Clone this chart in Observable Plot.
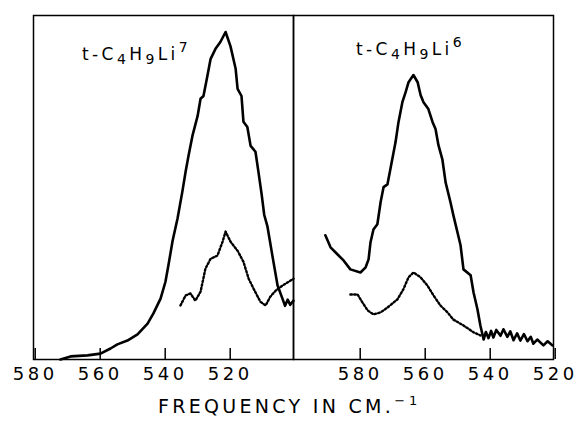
<!DOCTYPE html>
<html>
<head>
<meta charset="utf-8">
<script src="https://cdn.jsdelivr.net/npm/d3@7"></script>
<script src="https://cdn.jsdelivr.net/npm/@observablehq/plot@0.6"></script>
<style>
  html, body { margin: 0; padding: 0; background: #fff; }
  #wrap { position: relative; width: 577px; height: 421px; overflow: hidden; font-family: "DejaVu Sans", sans-serif; color: #000; }
  #row { display: flex; flex-direction: row; }
  #row svg { overflow: visible; }
  #row svg g[aria-label="x-axis tick label"] text { letter-spacing: 3.5px; }
  #xlabel { position: absolute; left: 158px; top: 397px; font-size: 19px; line-height: 19px; letter-spacing: 3.3px; white-space: nowrap; }
  #xlabel sup { font-size: 13px; letter-spacing: 4px; vertical-align: 8px; line-height: 0; }
  .title { position: absolute; font-size: 17px; line-height: 17px; letter-spacing: 3.4px; white-space: nowrap; }
  .title sub { font-size: 14px; vertical-align: -4px; line-height: 0; }
  .title sup { font-size: 14px; vertical-align: 8px; line-height: 0; }
</style>
</head>
<body>
<div id="wrap">
  <div id="row"></div>
  <div class="title" id="t1" style="left:82px; top:46px;"></div>
  <div class="title" id="t2" style="left:356px; top:41px;"></div>
  <div id="xlabel">FREQUENCY IN CM.<sup>−1</sup></div>
</div>
<script>
// ---- Data (frequency in cm^-1, relative intensity 0-100) ----
const titleParts = ["t-C", "4", "H", "9", "Li"];
const leftIsotope = "7";
const rightIsotope = "6";
const leftTicks = [580, 560, 540, 520];
const rightTicks = [580, 560, 540, 520];

const leftSolidFreq = [571.7, 568.6, 563.4, 559.4, 556.3, 554.2, 551.1, 548.0, 544.9, 543.1, 540.9, 539.4, 538.5, 537.2, 535.7, 534.2, 533.2, 532.3, 531.1, 529.5, 528.6, 527.7, 526.5, 525.5, 524.0, 522.5, 520.9, 519.4, 517.8, 517.2, 516.0, 515.4, 514.2, 513.2, 511.7, 510.8, 509.8, 509.0, 508.0, 506.5, 504.9, 503.4, 502.6, 501.8, 501.0, 500.0];
const leftSolidVal  = [0.0, 0.9, 1.2, 1.7, 3.2, 4.4, 5.5, 7.3, 10.4, 13.4, 17.7, 22.6, 27.3, 34.5, 40.9, 48.8, 54.6, 59.2, 65.0, 70.8, 75.8, 76.6, 82.4, 87.4, 90.3, 92.3, 95.2, 91.1, 84.5, 78.7, 76.6, 69.1, 67.6, 62.1, 60.4, 54.6, 48.0, 42.0, 38.6, 30.2, 21.5, 17.7, 15.6, 17.4, 15.9, 17.1];

const leftDotFreq = [534.8, 533.2, 531.7, 530.2, 528.6, 527.1, 525.5, 523.4, 521.8, 520.9, 519.4, 517.2, 515.4, 513.8, 512.3, 510.2, 508.6, 507.1, 505.5, 503.4, 501.5, 500.0];
const leftDotVal  = [15.7, 18.6, 19.2, 17.1, 19.7, 26.4, 29.3, 30.2, 34.3, 37.2, 34.3, 31.6, 28.4, 23.5, 20.6, 16.8, 15.7, 18.3, 20.0, 21.5, 22.6, 23.5];

const rightSolidFreq = [590.2, 588.6, 586.5, 584.6, 582.5, 579.4, 577.8, 576.9, 576.3, 575.4, 574.2, 573.2, 572.3, 571.1, 570.2, 568.6, 567.7, 566.5, 565.5, 564.6, 563.1, 561.8, 560.9, 560.0, 558.5, 557.2, 556.3, 555.4, 554.2, 553.2, 551.7, 550.8, 548.6, 547.7, 545.5, 544.6, 543.4, 542.5, 541.5, 540.8, 540.0, 539.2, 538.5, 537.6, 536.3, 535.4, 534.2, 533.3, 532.3, 531.2, 530.2, 529.1, 528.0, 527.0, 526.2, 525.0, 523.1, 521.8, 520.3];
const rightSolidVal  = [36.1, 32.6, 30.6, 28.8, 26.2, 25.3, 26.8, 29.1, 34.1, 37.8, 39.3, 45.7, 50.1, 50.9, 55.3, 63.2, 69.0, 74.8, 77.7, 80.6, 82.7, 80.6, 76.9, 74.8, 72.8, 69.0, 67.0, 62.3, 58.2, 51.5, 45.7, 41.9, 33.2, 26.2, 24.5, 19.5, 14.6, 9.9, 5.8, 8.0, 6.2, 8.3, 6.4, 8.6, 6.9, 8.8, 6.6, 8.2, 5.6, 7.6, 5.5, 7.4, 5.3, 6.6, 4.6, 5.8, 4.1, 5.3, 4.1];

const rightDotFreq = [582.5, 580.3, 578.8, 577.2, 575.4, 573.2, 571.1, 568.0, 566.2, 564.6, 563.1, 560.9, 558.8, 556.9, 554.8, 552.6, 550.8, 547.7, 544.6, 542.5];
const rightDotVal  = [18.9, 18.9, 16.6, 14.3, 13.1, 13.7, 15.1, 17.5, 20.4, 23.9, 25.3, 23.9, 21.5, 18.6, 15.7, 13.7, 11.6, 9.9, 7.9, 7.0];

const zip = (fs, vs) => fs.map((f, i) => ({f, v: vs[i]}));

function panel({width, marginLeft, marginRight, domain, ticks, solid, dotted}) {
  return Plot.plot({
    width, height: 390,
    marginLeft, marginRight, marginTop: 15, marginBottom: 31,
    style: {fontFamily: "DejaVu Sans, sans-serif", fontSize: "18px", color: "#000", background: "transparent"},
    x: {domain, label: null},
    y: {domain: [0, 100], axis: null},
    marks: [
      Plot.frame({stroke: "#000", strokeWidth: 1.5}),
      Plot.axisX({ticks, tickSize: -11, tickPadding: 19, tickFormat: d => String(d), label: null, stroke: "#000", strokeWidth: 1.5, fontSize: 18, dx: 1.7}),
      Plot.line(dotted, {x: "f", y: "v", stroke: "#000", strokeWidth: 2.4, strokeDasharray: "1.6 2.2", curve: "linear"}),
      Plot.line(solid, {x: "f", y: "v", stroke: "#000", strokeWidth: 2.6, curve: "linear", strokeLinejoin: "round"})
    ]
  });
}

function setTitle(id, iso) {
  const el = document.getElementById(id);
  const [a, b, c, d, e] = titleParts;
  el.innerHTML = `${a}<sub>${b}</sub>${c}<sub>${d}</sub>${e}<sup>${iso}</sup>`;
}
setTitle("t1", leftIsotope);
setTitle("t2", rightIsotope);

const row = document.getElementById("row");
row.appendChild(panel({width: 293, marginLeft: 33, marginRight: 0, domain: [580, 500], ticks: leftTicks,
  solid: zip(leftSolidFreq, leftSolidVal), dotted: zip(leftDotFreq, leftDotVal)}));
row.appendChild(panel({width: 284, marginLeft: 0, marginRight: 24, domain: [600, 520], ticks: rightTicks,
  solid: zip(rightSolidFreq, rightSolidVal), dotted: zip(rightDotFreq, rightDotVal)}));
</script>
</body>
</html>
